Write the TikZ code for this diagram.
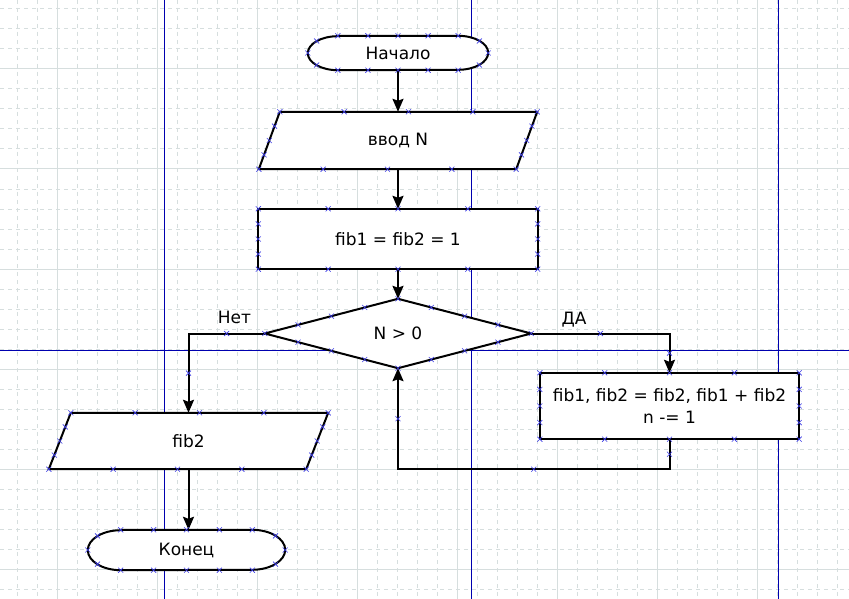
\documentclass[tikz,border=0pt]{standalone}
\usepackage{fontspec}
\setmainfont{DejaVu Sans}
\usetikzlibrary{calc,arrows.meta}
\pgfdeclarelayer{grid}
\pgfdeclarelayer{shapes}
\pgfsetlayers{grid,shapes,main}

\definecolor{gridc}{RGB}{214,222,222}
\definecolor{guidec}{RGB}{0,0,175}
\definecolor{markc}{RGB}{60,60,230}

\tikzset{
  txt/.style={inner sep=0pt, font=\fontsize{17}{22}\selectfont, align=center},
  shp/.style={draw=black, line width=2pt, fill=white},
  conn/.style={draw=black, line width=2pt},
  arr/.style={conn, -{Stealth[length=13pt,width=11pt,inset=2pt]}},
  gridline/.style={draw=gridc, line width=1pt},
  guide/.style={draw=guidec, line width=1pt},
  mk/.style={draw=markc, line width=0.6pt},
  xm/.pic={\draw[mk] (-2.5,-2.5) -- (2.5,2.5) (-2.5,2.5) -- (2.5,-2.5);},
}

% connection marks at the corners and quarter points of a four-sided outline
\newcommand\quartermarks[4]{%
  \foreach \p/\q in {#1/#2,#2/#3,#3/#4,#4/#1}{%
    \foreach \t in {0,0.25,0.5,0.75}{\pic at ($(\p)!\t!(\q)$) {xm};}}}

% terminator outline with elliptic ends: node, x radius, y radius
\newcommand\termshape[3]{%
  \draw[shp] ($(#1.north west)+(#2,0)$) -- ($(#1.north east)+(-#2,0)$)
    arc[start angle=90,end angle=-90,x radius=#2pt,y radius=#3pt]
    -- ($(#1.south west)+(#2,0)$)
    arc[start angle=270,end angle=90,x radius=#2pt,y radius=#3pt] -- cycle;}

% connection marks of a terminator
\newcommand\termmarks[3]{%
  \foreach \k in {1,...,5}{%
    \pic at ($(#1.north west)!{\k/6}!(#1.north east)$) {xm};
    \pic at ($(#1.south west)!{\k/6}!(#1.south east)$) {xm};}
  \pic at (#1.west) {xm};
  \pic at (#1.east) {xm};
  \pic at ($(#1.west)+({0.293*#2},{0.707*#3})$) {xm};
  \pic at ($(#1.west)+({0.293*#2},{-0.707*#3})$) {xm};
  \pic at ($(#1.east)+({-0.293*#2},{0.707*#3})$) {xm};
  \pic at ($(#1.east)+({-0.293*#2},{-0.707*#3})$) {xm};}

\begin{document}
\begin{tikzpicture}[x=1pt,y=1pt]
\useasboundingbox (0,0) rectangle (849,-599);

% drawing grid and guide lines
\begin{pgfonlayer}{grid}
  \fill[white] (0,0) rectangle (849,-599);
  \foreach \k in {0,...,41}
    \draw[gridline, dash pattern=on 4pt off 4pt] ({17+20*\k},0) -- ({17+20*\k},-599);
  \foreach \k in {0,...,29}
    \draw[gridline, dash pattern=on 4pt off 4pt] (0,{-9-20*\k}) -- (849,{-9-20*\k});
  \foreach \x in {57,157,...,757} \draw[gridline] (\x,0) -- (\x,-599);
  \foreach \y in {69,169,...,569} \draw[gridline] (0,-\y) -- (849,-\y);
  \draw[guide] (164,0) -- (164,-599) (471,0) -- (471,-599) (778,0) -- (778,-599)
               (0,-350) -- (849,-350);
\end{pgfonlayer}

% blocks
\node[txt, minimum width=180pt, minimum height=34pt] (start) at (398,-53) {Начало};
\node[txt, minimum width=278pt, minimum height=57pt] (inp) at (398,-140.5) {ввод N};
\node[txt, minimum width=279pt, minimum height=60pt] (init) at (398,-239) {fib1 = fib2 = 1};
\node[txt, minimum width=266pt, minimum height=69pt] (cond) at (398,-333.5) {N > 0};
\node[txt, minimum width=259pt, minimum height=66pt] (upd) at (669.5,-406)
  {fib1, fib2 = fib2, fib1 + fib2\\n -= 1};
\node[txt, minimum width=279pt, minimum height=56pt] (out) at (188.5,-441) {fib2};
\node[txt, minimum width=197pt, minimum height=40pt] (fin) at (186.5,-550) {Конец};

\coordinate (inp-tl) at ($(inp.north west)+(21,0)$);
\coordinate (inp-br) at ($(inp.south east)+(-21,0)$);
\coordinate (out-tl) at ($(out.north west)+(22,0)$);
\coordinate (out-br) at ($(out.south east)+(-22,0)$);

\begin{pgfonlayer}{shapes}
  \termshape{start}{30}{17}
  \draw[shp] (inp-tl) -- (inp.north east) -- (inp-br) -- (inp.south west) -- cycle;
  \draw[shp] (init.north west) rectangle (init.south east);
  \draw[shp] (cond.north) -- (cond.east) -- (cond.south) -- (cond.west) -- cycle;
  \draw[shp] (upd.north west) rectangle (upd.south east);
  \draw[shp] (out-tl) -- (out.north east) -- (out-br) -- (out.south west) -- cycle;
  \termshape{fin}{33}{20}
\end{pgfonlayer}

% connectors
\coordinate (cL) at (out.north |- cond.west);
\coordinate (cR) at (upd.north |- cond.east);
\coordinate (lpR) at ($(upd.south)+(0,-30)$);
\coordinate (lpL) at (cond.south |- lpR);
\coordinate (fT) at (out.south |- fin.north);

\draw[arr] (start.south) -- (inp.north);
\draw[arr] (inp.south) -- (init.north);
\draw[arr] (init.south) -- (cond.north);
\draw[arr] (cond.west) -- (cL) -- (out.north);
\draw[arr] (cond.east) -- (cR) -- (upd.north);
\draw[arr] (upd.south) -- (lpR) -- (lpL) -- (cond.south);
\draw[arr] (out.south) -- (fT);

\node[txt, anchor=base] (lno) at (234.5,-323) {Нет};
\node[txt, anchor=base] (lyes) at (574,-324) {ДА};

% connection marks
\quartermarks{inp-tl}{inp.north east}{inp-br}{inp.south west}
\quartermarks{init.north west}{init.north east}{init.south east}{init.south west}
\quartermarks{cond.north}{cond.east}{cond.south}{cond.west}
\quartermarks{upd.north west}{upd.north east}{upd.south east}{upd.south west}
\quartermarks{out-tl}{out.north east}{out-br}{out.south west}
\termmarks{start}{30}{17}
\termmarks{fin}{33}{20}
\foreach \a/\b in {cond.west/cL,cL/out.north,cond.east/cR,cR/upd.north,
                   upd.south/lpR,lpR/lpL,lpL/cond.south}
  \pic at ($(\a)!0.5!(\b)$) {xm};
\end{tikzpicture}
\end{document}
